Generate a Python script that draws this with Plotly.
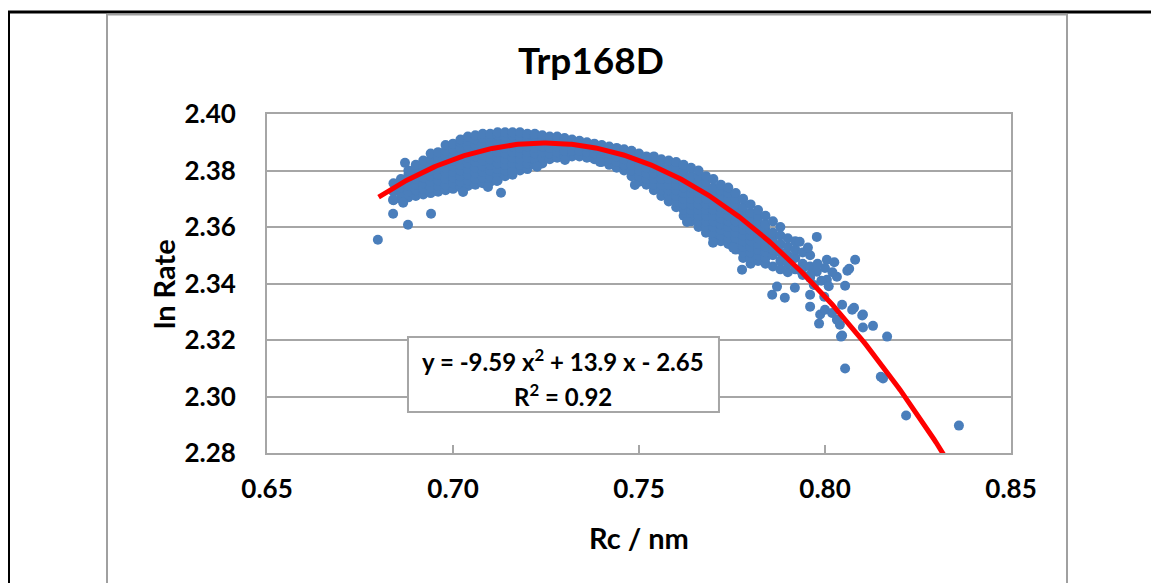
import numpy as np
import plotly.graph_objects as go

# ---------------- data ----------------
# dense band of points: one x column -> its y values
band_x = [0.684, 0.686, 0.688, 0.690, 0.692, 0.694, 0.696, 0.698, 0.700, 0.702,
          0.704, 0.706, 0.708, 0.710, 0.712, 0.714, 0.716, 0.718, 0.720, 0.722,
          0.724, 0.726, 0.728, 0.730, 0.732, 0.734, 0.736, 0.738, 0.740, 0.742,
          0.744, 0.746, 0.748, 0.750, 0.752, 0.754, 0.756, 0.758, 0.760, 0.762,
          0.764, 0.766, 0.768, 0.770, 0.772, 0.774, 0.776, 0.778, 0.780, 0.782,
          0.784, 0.786, 0.788, 0.790, 0.792, 0.794, 0.796]
band_y = [
    [2.3695, 2.3725, 2.3755],
    [2.370, 2.372, 2.374, 2.377],
    [2.3705, 2.3725, 2.3745, 2.3765, 2.3785, 2.380],
    [2.371, 2.373, 2.375, 2.377, 2.379, 2.381, 2.382],
    [2.3715, 2.3735, 2.3755, 2.3775, 2.3795, 2.3815, 2.3835],
    [2.372, 2.374, 2.376, 2.378, 2.380, 2.382, 2.384, 2.386],
    [2.3725, 2.3745, 2.3765, 2.3785, 2.3805, 2.3825, 2.3845, 2.3865],
    [2.373, 2.375, 2.377, 2.379, 2.381, 2.383, 2.385, 2.387, 2.389],
    [2.3735, 2.3755, 2.3775, 2.3795, 2.3815, 2.3835, 2.3855, 2.3875, 2.3895],
    [2.374, 2.376, 2.378, 2.380, 2.382, 2.384, 2.386, 2.388, 2.390, 2.391],
    [2.3745, 2.3765, 2.3785, 2.3805, 2.3825, 2.3845, 2.3865, 2.3885, 2.3905, 2.392],
    [2.375, 2.377, 2.379, 2.381, 2.383, 2.385, 2.387, 2.389, 2.391, 2.3925],
    [2.3755, 2.3775, 2.3795, 2.3815, 2.3835, 2.3855, 2.3875, 2.3895, 2.3915, 2.393],
    [2.376, 2.378, 2.380, 2.382, 2.384, 2.386, 2.388, 2.390, 2.392, 2.393],
    [2.3765, 2.3785, 2.3805, 2.3825, 2.3845, 2.3865, 2.3885, 2.3905, 2.3925, 2.3935],
    [2.378, 2.380, 2.382, 2.384, 2.386, 2.388, 2.390, 2.392, 2.3935],
    [2.3785, 2.3805, 2.3825, 2.3845, 2.3865, 2.3885, 2.3905, 2.3925, 2.3935],
    [2.380, 2.382, 2.384, 2.386, 2.388, 2.390, 2.392, 2.3935],
    [2.3805, 2.3825, 2.3845, 2.3865, 2.3885, 2.3905, 2.3925, 2.393],
    [2.382, 2.384, 2.386, 2.388, 2.390, 2.392, 2.393],
    [2.3825, 2.3845, 2.3865, 2.3885, 2.3905, 2.3925],
    [2.384, 2.386, 2.388, 2.390, 2.392],
    [2.3845, 2.3865, 2.3885, 2.3905, 2.392],
    [2.385, 2.387, 2.389, 2.391, 2.3915],
    [2.385, 2.387, 2.389, 2.391],
    [2.385, 2.387, 2.389, 2.3905],
    [2.3845, 2.3865, 2.3885, 2.390],
    [2.384, 2.386, 2.388, 2.3895],
    [2.383, 2.385, 2.387, 2.389],
    [2.382, 2.384, 2.386, 2.3885],
    [2.381, 2.383, 2.385, 2.387, 2.388],
    [2.380, 2.382, 2.384, 2.386, 2.3875],
    [2.378, 2.380, 2.382, 2.384, 2.386, 2.387],
    [2.376, 2.378, 2.380, 2.382, 2.384, 2.386],
    [2.375, 2.377, 2.379, 2.381, 2.383, 2.385],
    [2.373, 2.375, 2.377, 2.379, 2.381, 2.383, 2.385],
    [2.371, 2.373, 2.375, 2.377, 2.379, 2.381, 2.383, 2.384],
    [2.369, 2.371, 2.373, 2.375, 2.377, 2.379, 2.381, 2.3835],
    [2.367, 2.369, 2.371, 2.373, 2.375, 2.377, 2.379, 2.381, 2.383],
    [2.364, 2.366, 2.368, 2.370, 2.372, 2.374, 2.376, 2.378, 2.380, 2.382],
    [2.362, 2.364, 2.366, 2.368, 2.370, 2.372, 2.374, 2.376, 2.378, 2.381],
    [2.360, 2.362, 2.364, 2.366, 2.368, 2.370, 2.372, 2.374, 2.376, 2.378, 2.380],
    [2.358, 2.360, 2.362, 2.364, 2.366, 2.368, 2.370, 2.372, 2.374, 2.376, 2.378],
    [2.356, 2.358, 2.360, 2.362, 2.364, 2.366, 2.368, 2.370, 2.372, 2.374, 2.377],
    [2.355, 2.357, 2.359, 2.361, 2.363, 2.365, 2.367, 2.369, 2.371, 2.373, 2.375],
    [2.354, 2.356, 2.358, 2.360, 2.362, 2.364, 2.366, 2.368, 2.370, 2.372, 2.374],
    [2.352, 2.354, 2.356, 2.358, 2.360, 2.362, 2.364, 2.366, 2.368, 2.370, 2.372],
    [2.349, 2.351, 2.353, 2.355, 2.357, 2.359, 2.361, 2.363, 2.365, 2.367, 2.370],
    [2.347, 2.349, 2.351, 2.353, 2.355, 2.357, 2.359, 2.361, 2.363, 2.365, 2.368],
    [2.348, 2.350, 2.352, 2.354, 2.356, 2.358, 2.360, 2.362, 2.364, 2.366],
    [2.347, 2.349, 2.351, 2.353, 2.355, 2.357, 2.359, 2.361, 2.364],
    [2.346, 2.350, 2.352, 2.354, 2.356, 2.358, 2.362],
    [2.345, 2.348, 2.351, 2.354, 2.357, 2.360],
    [2.344, 2.347, 2.350, 2.353, 2.356],
    [2.345, 2.349, 2.352, 2.355],
    [2.343, 2.347, 2.351],
    [2.342, 2.346, 2.350],
]

# scattered individual points
scatter_x = [0.6798, 0.6839, 0.6879, 0.6941, 0.6839, 0.6866, 0.6871, 0.7027, 0.7129,
             0.7094, 0.7118, 0.7301, 0.7395, 0.7489, 0.7226, 0.7159,
             0.7629, 0.7699, 0.7753, 0.7777,
             0.7954, 0.7932, 0.7919, 0.7892, 0.7858, 0.7871, 0.7960, 0.7987, 0.7984,
             0.8040, 0.8046, 0.8102, 0.8078, 0.8129, 0.8102, 0.8054, 0.8032, 0.8005,
             0.7978, 0.7978, 0.8005, 0.8065, 0.8081, 0.8167, 0.8043, 0.8054, 0.8156,
             0.8150, 0.8218, 0.8360, 0.8100, 0.8073, 0.8046, 0.7960, 0.7998, 0.8000,
             0.8019, 0.8032,
             0.7946, 0.7980, 0.8000, 0.8020, 0.7960, 0.7935, 0.7990, 0.8010, 0.7970,
             0.8060, 0.8025]
scatter_y = [2.3555, 2.3647, 2.3608, 2.3647, 2.3696, 2.3686, 2.3827, 2.3724, 2.3721,
             2.3742, 2.3763, 2.3837, 2.3830, 2.3749, 2.3813, 2.3795,
             2.3618, 2.3544, 2.3527, 2.3449,
             2.3527, 2.3548, 2.3385, 2.3350, 2.3360, 2.3389, 2.3318, 2.3290, 2.3258,
             2.3254, 2.3216, 2.3290, 2.3314, 2.3250, 2.3244, 2.3392, 2.3424, 2.3413,
             2.3442, 2.3565, 2.3484, 2.3452, 2.3484, 2.3212, 2.3212, 2.3099, 2.3064,
             2.3070, 2.2933, 2.2897, 2.3287, 2.3307, 2.3325, 2.3360, 2.3353, 2.3307,
             2.3296, 2.3272,
             2.3460, 2.3470, 2.3455, 2.3440, 2.3430, 2.3445, 2.3410, 2.3390, 2.3395,
             2.3445, 2.3475]

# polynomial trendline (order 2), as shown: y = -9.59 x^2 + 13.9 x - 2.65
trend_coeffs = [-9.59, 13.9, -2.647]
trend_x_range = [0.68, 0.84]

x_ticks = [0.65, 0.70, 0.75, 0.80, 0.85]
x_tick_labels = ["0.65", "0.70", "0.75", "0.80", "0.85"]
y_ticks = [2.28, 2.30, 2.32, 2.34, 2.36, 2.38, 2.40]
y_tick_labels = ["2.28", "2.30", "2.32", "2.34", "2.36", "2.38", "2.40"]

title_text = "Trp168D"
x_title = "Rc / nm"
y_title = "ln Rate"
eq_line1 = "y = -9.59 x<sup>2</sup> + 13.9 x - 2.65"
eq_line2 = "R<sup>2</sup> = 0.92"

# ---------------- build figure ----------------
pts_x = [x for x, ys in zip(band_x, band_y) for _ in ys] + scatter_x
pts_y = [y for ys in band_y for y in ys] + scatter_y

tx = np.linspace(trend_x_range[0], trend_x_range[1], 300)
ty = np.polyval(trend_coeffs, tx)

BLUE = "#4a7ebb"
GRID = "#a6a6a6"
FONT = "Lato"

# page offset: the html body has an 8px margin
OFF = 8
W, H = 1159 - OFF, 583 - OFF
PL, PR, PT, PB = 267 - OFF, 1011 - OFF, 114 - OFF, 453 - OFF   # plot area in figure px

fig = go.Figure()
fig.add_trace(go.Scatter(x=pts_x, y=pts_y, mode="markers",
                         marker=dict(color=BLUE, size=10, line=dict(width=0)),
                         hoverinfo="skip"))
fig.add_trace(go.Scatter(x=tx, y=ty, mode="lines",
                         line=dict(color="#ff0000", width=5), hoverinfo="skip"))

fig.update_layout(
    width=W, height=H,
    margin=dict(l=PL, r=W - PR, t=PT, b=H - PB, pad=0),
    plot_bgcolor="white", paper_bgcolor="white",
    showlegend=False,
    font=dict(family=FONT, color="black"),
)
fig.update_xaxes(range=[0.65, 0.85], tickvals=x_ticks, ticktext=x_tick_labels,
                 showgrid=False, zeroline=False,
                 showline=True, linecolor=GRID, linewidth=2, mirror=True,
                 ticks="inside", ticklen=8, tickwidth=2, tickcolor=GRID,
                 tickfont=dict(family=FONT, size=26, weight="bold", color="black"),
                 ticklabelstandoff=12)
fig.update_yaxes(range=[2.28, 2.40], tickvals=y_ticks, ticktext=y_tick_labels,
                 showgrid=True, gridcolor=GRID, gridwidth=2, zeroline=False,
                 showline=True, linecolor=GRID, linewidth=2, mirror=True,
                 ticks="",
                 tickfont=dict(family=FONT, size=26, weight="bold", color="black"),
                 ticklabelstandoff=24)

def px2paper_x(px):
    # px given in page coordinates
    return (px - OFF - PL) / float(PR - PL)

def px2paper_y(py):
    return (PB - (py - OFF)) / float(PB - PT)

shapes = []
# outer black frame (left and top)
shapes.append(dict(type="line", xref="paper", yref="paper",
                   x0=px2paper_x(8.5), x1=px2paper_x(8.5), y0=px2paper_y(11), y1=px2paper_y(600),
                   line=dict(color="black", width=3)))
shapes.append(dict(type="line", xref="paper", yref="paper",
                   x0=px2paper_x(7), x1=px2paper_x(1170), y0=px2paper_y(12), y1=px2paper_y(12),
                   line=dict(color="black", width=3)))
# chart-area gray frame
shapes.append(dict(type="line", xref="paper", yref="paper",
                   x0=px2paper_x(107), x1=px2paper_x(1067), y0=px2paper_y(14.5), y1=px2paper_y(14.5),
                   line=dict(color="#a0a0a0", width=2)))
shapes.append(dict(type="line", xref="paper", yref="paper",
                   x0=px2paper_x(107), x1=px2paper_x(107), y0=px2paper_y(14), y1=px2paper_y(600),
                   line=dict(color="#a0a0a0", width=2)))
shapes.append(dict(type="line", xref="paper", yref="paper",
                   x0=px2paper_x(1067), x1=px2paper_x(1067), y0=px2paper_y(14), y1=px2paper_y(600),
                   line=dict(color="#a0a0a0", width=2)))
# equation box
shapes.append(dict(type="rect", xref="x", yref="y",
                   x0=0.6879, x1=0.7715, y0=2.2945, y1=2.3211,
                   fillcolor="white", line=dict(color=GRID, width=2), layer="above"))
fig.update_layout(shapes=shapes)

annotations = [
    dict(text=title_text, xref="paper", yref="paper", x=px2paper_x(591), y=px2paper_y(59),
         showarrow=False, xanchor="center", yanchor="middle",
         font=dict(family=FONT, size=37, weight="bold", color="black")),
    dict(text=x_title, xref="paper", yref="paper", x=0.5, y=px2paper_y(537),
         showarrow=False, xanchor="center", yanchor="middle",
         font=dict(family=FONT, size=29, weight="bold", color="black")),
    dict(text=y_title, xref="paper", yref="paper", x=px2paper_x(163), y=px2paper_y(284),
         showarrow=False, xanchor="center", yanchor="middle", textangle=-90,
         font=dict(family=FONT, size=29, weight="bold", color="black")),
    dict(text=eq_line1, xref="x", yref="y", x=0.7296, y=2.3129,
         showarrow=False, xanchor="center", yanchor="middle",
         font=dict(family=FONT, size=24, weight="bold", color="black")),
    dict(text=eq_line2, xref="x", yref="y", x=0.7296, y=2.3005,
         showarrow=False, xanchor="center", yanchor="middle",
         font=dict(family=FONT, size=24, weight="bold", color="black")),
]
fig.update_layout(annotations=annotations)

fig.write_html("out.html")
